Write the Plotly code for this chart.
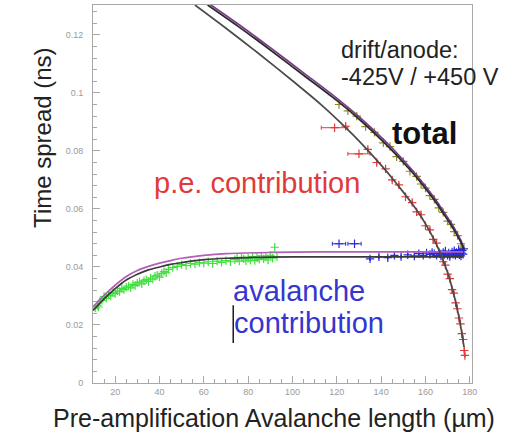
import plotly.graph_objects as go

# ---- fitted curves (x in µm, y in ns) ----
total_fit_x = [61.7, 75, 90, 105, 119.8, 130, 141.5, 148, 153.8, 159, 164.2, 168, 171.9, 174.5, 176.4, 177.4]
total_fit_y = [0.1303, 0.1232, 0.1148, 0.1061, 0.0975, 0.0910, 0.0828, 0.0777, 0.0728, 0.0680,
               0.0628, 0.0585, 0.0540, 0.0506, 0.0478, 0.0458]
total_fit2_y = [0.1311, 0.1240, 0.1156, 0.1069, 0.0983, 0.0918, 0.0836, 0.0785, 0.0736, 0.0688,
                0.0636, 0.0593, 0.0548, 0.0513, 0.0484, 0.0462]

pe_fit_x = [56, 70, 85, 100, 113, 120, 127, 134, 140, 145, 150, 154, 158, 162, 165, 167.4,
            169.8, 171.9, 173.6, 175.1, 176.3, 177.4]
pe_fit_y = [0.1303, 0.1223, 0.1134, 0.1042, 0.0959, 0.0910, 0.0858, 0.0802, 0.0751, 0.0706,
            0.0658, 0.0618, 0.0574, 0.0522, 0.0477, 0.0434, 0.0385, 0.0331, 0.0280, 0.0228,
            0.0178, 0.0124]

aval_fit_x = [10, 15, 20, 25, 30, 35, 40, 45, 50, 60, 70, 90, 110, 140, 177]
aval_fit_y = [0.0250, 0.0290, 0.0325, 0.0355, 0.0375, 0.0390, 0.0400, 0.0409, 0.0415, 0.0425,
              0.0430, 0.0434, 0.0435, 0.0435, 0.0435]
aval_fit2_y = [0.0262, 0.0302, 0.0337, 0.0367, 0.0388, 0.0402, 0.0413, 0.0422, 0.0430, 0.0440,
               0.0446, 0.0450, 0.0452, 0.0452, 0.0452]

# ---- measured points ----
green_x = [11, 12, 12.5, 13, 14, 15, 16, 17, 18, 19, 20, 21, 22, 23, 24, 25, 26, 27, 28, 29, 30,
           31, 32, 33, 34, 35, 36, 37, 38, 39, 40, 41, 42, 43, 44, 46, 48, 50, 52, 54, 56, 58,
           60, 62, 64, 66, 68, 70, 72, 74, 75, 76, 77, 78, 79, 80, 81, 82, 83, 84, 85, 86, 87,
           88, 89, 90, 91, 92, 93]
green_y = [0.0258, 0.0268, 0.0262, 0.0280, 0.0285, 0.0298, 0.0292, 0.0303, 0.0300, 0.0312, 0.0308,
           0.0318, 0.0315, 0.0326, 0.0322, 0.0330, 0.0334, 0.0328, 0.0340, 0.0336, 0.0345,
           0.0348, 0.0342, 0.0352, 0.0356, 0.0350, 0.0362, 0.0358, 0.0368, 0.0372, 0.0365,
           0.0378, 0.0384, 0.0380, 0.0392, 0.0398, 0.0402, 0.0408, 0.0405, 0.0412, 0.0410,
           0.0415, 0.0413, 0.0418, 0.0412, 0.0420, 0.0416, 0.0422, 0.0418, 0.0425, 0.0430,
           0.0420, 0.0433, 0.0428, 0.0421, 0.0430, 0.0424, 0.0436, 0.0422, 0.0432, 0.0426,
           0.0438, 0.0428, 0.0434, 0.0424, 0.0440, 0.0430, 0.0468, 0.0436]

blue_x = [121, 128, 135, 139, 143, 146, 149, 152, 155, 157, 159, 160.5, 162, 163, 164, 165, 166,
          166.5, 167, 168, 168.5, 169, 170, 170.5, 171, 172, 172.5, 173, 173.5, 174, 174.5, 175,
          175.3, 175.6, 176, 176.3, 176.6, 177, 177.3]
blue_y = [0.0480, 0.0480, 0.0428, 0.0435, 0.0432, 0.0440, 0.0436, 0.0442, 0.0438, 0.0446, 0.0440,
          0.0448, 0.0443, 0.0450, 0.0446, 0.0440, 0.0452, 0.0445, 0.0438, 0.0450, 0.0443,
          0.0455, 0.0440, 0.0448, 0.0436, 0.0452, 0.0444, 0.0456, 0.0440, 0.0450, 0.0445,
          0.0460, 0.0442, 0.0452, 0.0438, 0.0448, 0.0456, 0.0444, 0.0462]
blue_ex = [3, 3] + [0] * 37

red_x = [119, 124, 130, 134, 138, 142, 145, 148, 151, 154, 156, 158, 160, 162, 163.5, 165, 166,
         167, 168, 169, 170, 171, 172, 172.8, 173.6, 174.4, 175.1, 175.8, 176.4, 177, 177.5,
         177.8]
red_y = [0.0880, 0.0885, 0.0790, 0.0805, 0.0760, 0.0738, 0.0700, 0.0683, 0.0642, 0.0622, 0.0590,
         0.0580, 0.0542, 0.0528, 0.0495, 0.0482, 0.0452, 0.0445, 0.0418, 0.0406, 0.0375,
         0.0360, 0.0322, 0.0310, 0.0276, 0.0256, 0.0224, 0.0204, 0.0170, 0.0150, 0.0112,
         0.0095]
red_ex = [6, 0, 5] + [0] * 29

olive_x = [121, 125, 129, 133, 137, 141, 144, 147, 150, 153, 156, 158, 160, 162, 164, 166, 168,
           170, 171.5, 173, 174.5, 176]
olive_y = [0.0960, 0.0938, 0.0920, 0.0884, 0.0864, 0.0828, 0.0815, 0.0780, 0.0764, 0.0730,
           0.0712, 0.0686, 0.0672, 0.0646, 0.0633, 0.0604, 0.0588, 0.0558, 0.0547, 0.0522,
           0.0508, 0.0480]

x_ticks = [20, 40, 60, 80, 100, 120, 140, 160, 180]
y_ticks = [0, 0.02, 0.04, 0.06, 0.08, 0.1, 0.12]
y_tick_text = ["0", "0.02", "0.04", "0.06", "0.08", "0.1", "0.12"]

FONT = "Liberation Sans, Arial, sans-serif"

fig = go.Figure()


def points(x, y, color, ex=None):
    tr = go.Scatter(
        x=x, y=y, mode="markers",
        marker=dict(symbol="cross-thin", size=6, line=dict(color=color, width=1.2)),
        showlegend=False, hoverinfo="skip",
    )
    if ex is not None:
        tr.error_x = dict(type="data", array=ex, color=color, thickness=1, width=2)
    fig.add_trace(tr)


def curve(x, y, color, width=1.7):
    fig.add_trace(go.Scatter(
        x=x, y=y, mode="lines", line=dict(color=color, width=width, shape="spline", smoothing=0.8),
        showlegend=False, hoverinfo="skip",
    ))


points(green_x, green_y, "#3fe03f")
points(olive_x, olive_y, "#8c8c22")
points(red_x, red_y, "#e23a3a", red_ex)
points(blue_x, blue_y, "#2a2ad8", blue_ex)

curve(aval_fit_x, aval_fit2_y, "#b25fb8")
curve(aval_fit_x, aval_fit_y, "#3a3a3a")
curve(pe_fit_x, pe_fit_y, "#4a4a4a")
curve(total_fit_x, total_fit2_y, "#7a3a8a")
curve(total_fit_x, total_fit_y, "#2a2a2a")

axis_common = dict(
    showgrid=False, zeroline=False, showline=True, mirror=True,
    linecolor="#a8a8a8", linewidth=1, ticks="inside", ticklen=7, tickcolor="#a8a8a8",
    tickfont=dict(family=FONT, size=9, color="#9a9a9a"),
)

fig.update_layout(
    width=530, height=434,
    margin=dict(l=93, r=58, t=5, b=51),
    paper_bgcolor="white", plot_bgcolor="white",
    xaxis=dict(range=[10, 181], tickvals=x_ticks,
               minor=dict(dtick=5, tick0=0, ticks="inside", ticklen=4, tickcolor="#a8a8a8"),
               **axis_common),
    yaxis=dict(range=[0, 0.1303], tickvals=y_ticks, ticktext=y_tick_text, ticklabelstandoff=7,
               minor=dict(dtick=0.004, tick0=0, ticks="inside", ticklen=4, tickcolor="#a8a8a8"),
               **axis_common),
)

ann = []
ann.append(dict(text="Pre-amplification Avalanche length (µm)", xref="paper", yref="paper",
                x=0.478, y=-0.093, xanchor="center", yanchor="middle", showarrow=False,
                font=dict(family=FONT, size=25, color="#222222")))
ann.append(dict(text="Time spread (ns)", xref="paper", yref="paper", textangle=-90,
                x=-0.133, y=0.65, xanchor="center", yanchor="middle", showarrow=False,
                font=dict(family=FONT, size=24, color="#222222")))
ann.append(dict(text="drift/anode:", xref="paper", yref="paper", x=0.649, y=0.881,
                xanchor="left", yanchor="middle", showarrow=False,
                font=dict(family=FONT, size=23.5, color="#222222")))
ann.append(dict(text="-425V / +450 V", xref="paper", yref="paper", x=0.649, y=0.810,
                xanchor="left", yanchor="middle", showarrow=False,
                font=dict(family=FONT, size=23.5, color="#222222")))
ann.append(dict(text="<b>total</b>", xref="paper", yref="paper", x=0.784, y=0.661,
                xanchor="left", yanchor="middle", showarrow=False,
                font=dict(family=FONT, size=31, color="#111111")))
ann.append(dict(text="p.e. contribution", xref="paper", yref="paper", x=0.156, y=0.529,
                xanchor="left", yanchor="middle", showarrow=False,
                font=dict(family=FONT, size=29, color="#e03a3a")))
ann.append(dict(text="avalanche", xref="paper", yref="paper", x=0.365, y=0.243,
                xanchor="left", yanchor="middle", showarrow=False,
                font=dict(family=FONT, size=29, color="#3535d0")))
ann.append(dict(text="contribution", xref="paper", yref="paper", x=0.368, y=0.160,
                xanchor="left", yanchor="middle", showarrow=False,
                font=dict(family=FONT, size=29, color="#3535d0")))
fig.update_layout(annotations=ann)

# text cursor before "contribution"
fig.add_shape(type="line", xref="paper", yref="paper", x0=0.370, x1=0.370, y0=0.106, y1=0.206,
              line=dict(color="#1a1a2a", width=1.5))

fig.write_html("out.html")
